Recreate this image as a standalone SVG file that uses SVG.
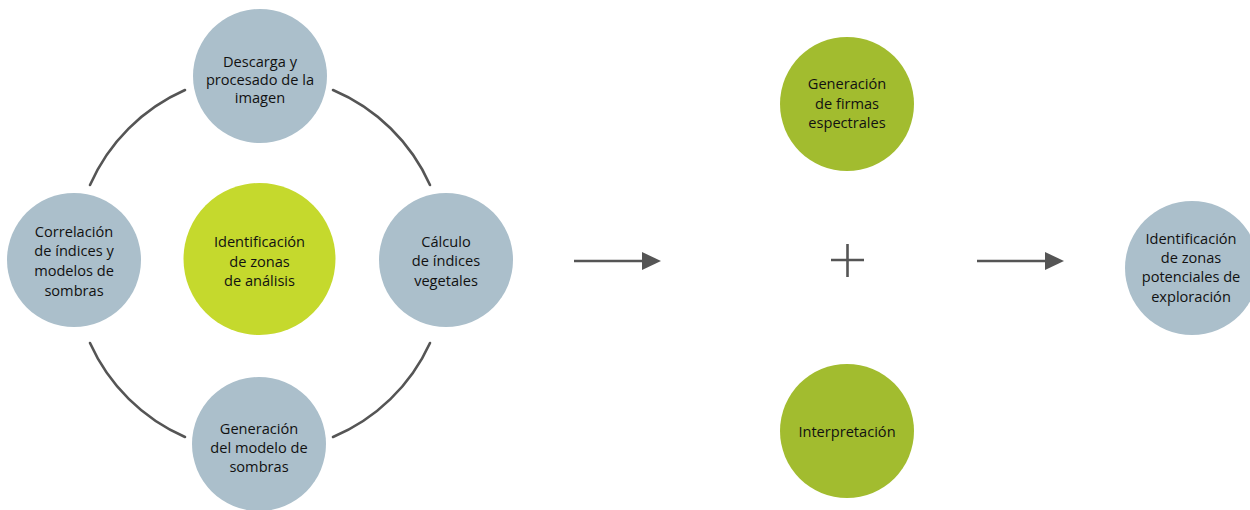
<svg xmlns="http://www.w3.org/2000/svg" width="1250" height="510" viewBox="0 0 1250 510">
<defs>
<style>
.gray{fill:#abbfcb}
.lime{fill:#c5d92d}
.green{fill:#a2bc2f}
text{font-family:"Open Sans","Noto Sans",sans-serif;font-size:14.6px;fill:#111;text-anchor:middle}
.arc{fill:none;stroke:#555;stroke-width:2.6;stroke-linecap:round}
.ln{fill:none;stroke:#555;stroke-width:2.6}
</style>
</defs>
<rect width="1250" height="510" fill="#fff"/>
<g id="connectors">
<path class="arc" d="M90,185 A185,185 0 0 1 185,90"/>
<path class="arc" d="M333,90 A185,185 0 0 1 430,185"/>
<path class="arc" d="M430,343 A185,185 0 0 1 333,437"/>
<path class="arc" d="M185,437 A185,185 0 0 1 90,343"/>
<line class="ln" x1="574" y1="261" x2="643" y2="261"/>
<path d="M642,252 L661,261 L642,270 z" fill="#555"/>
<line class="ln" x1="977" y1="261" x2="1046" y2="261"/>
<path d="M1045,252 L1064,261 L1045,270 z" fill="#555"/>
<line class="ln" x1="831" y1="260" x2="864" y2="260"/>
<line class="ln" x1="847.5" y1="244" x2="847.5" y2="277"/>
</g>
<g id="n-descarga">
<circle class="gray" cx="260" cy="76" r="67"/>
<text x="260" y="67">Descarga y</text>
<text x="260" y="85">procesado de la</text>
<text x="260" y="103">imagen</text>
</g>
<g id="n-correlacion">
<circle class="gray" cx="74" cy="260" r="67"/>
<text x="74" y="237">Correlación</text>
<text x="74" y="256">de índices y</text>
<text x="74" y="276">modelos de</text>
<text x="74" y="296">sombras</text>
</g>
<g id="n-identificacion">
<circle class="lime" cx="259.5" cy="259" r="76"/>
<text x="259.5" y="247">Identificación</text>
<text x="259.5" y="267">de zonas</text>
<text x="259.5" y="286">de análisis</text>
</g>
<g id="n-calculo">
<circle class="gray" cx="446" cy="260" r="67"/>
<text x="446" y="247">Cálculo</text>
<text x="446" y="266">de índices</text>
<text x="446" y="286">vegetales</text>
</g>
<g id="n-generacion-sombras">
<circle class="gray" cx="259" cy="444" r="67"/>
<text x="259" y="434">Generación</text>
<text x="259" y="453">del modelo de</text>
<text x="259" y="472">sombras</text>
</g>
<g id="n-firmas">
<circle class="green" cx="847" cy="104" r="67"/>
<text x="847" y="89">Generación</text>
<text x="847" y="109">de firmas</text>
<text x="847" y="128">espectrales</text>
</g>
<g id="n-interpretacion">
<circle class="green" cx="847" cy="431" r="67"/>
<text x="847" y="437">Interpretación</text>
</g>
<g id="n-potenciales">
<circle class="gray" cx="1192" cy="268" r="67"/>
<text x="1191" y="244">Identificación</text>
<text x="1191" y="263">de zonas</text>
<text x="1191" y="282">potenciales de</text>
<text x="1191" y="302">exploración</text>
</g>
</svg>
